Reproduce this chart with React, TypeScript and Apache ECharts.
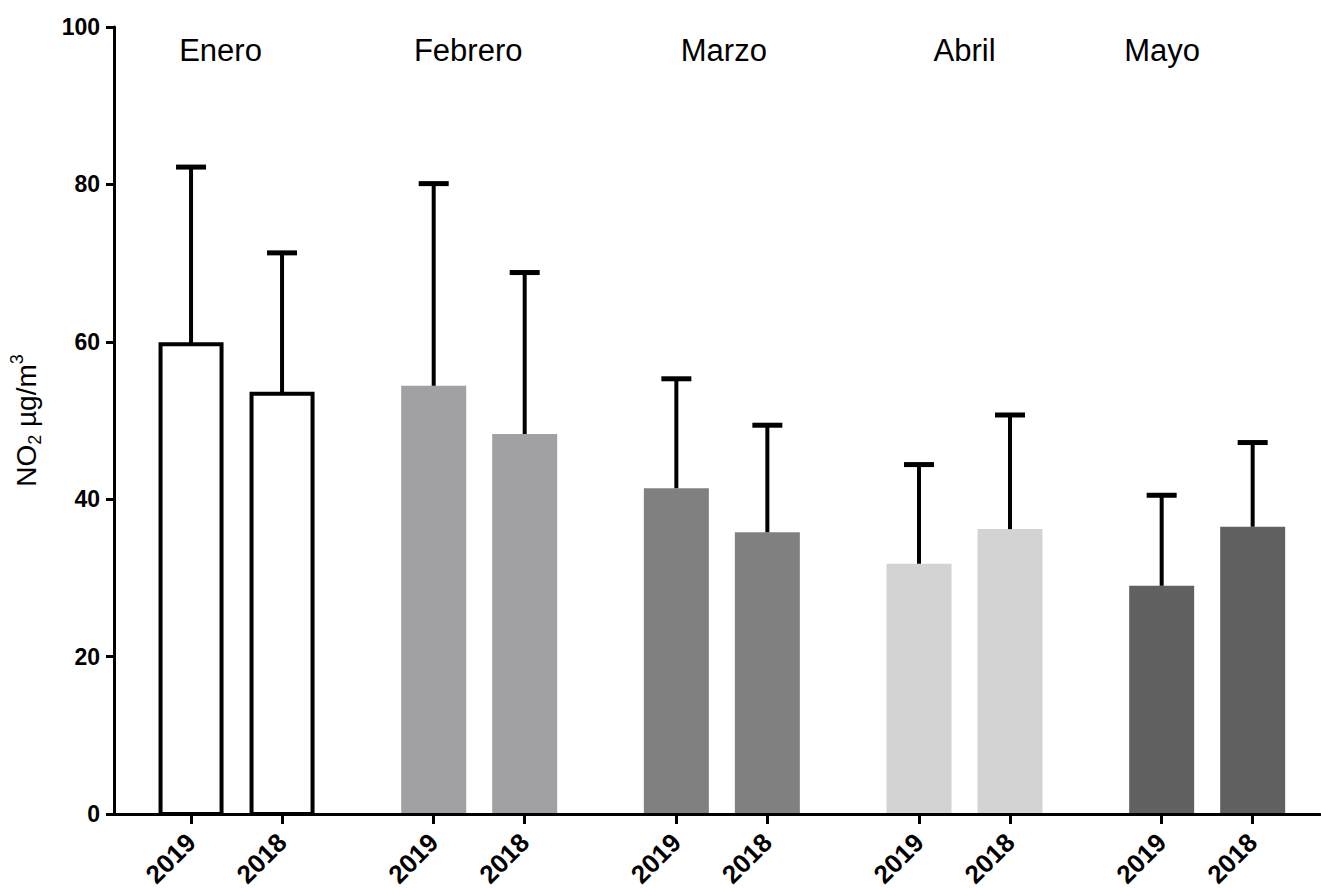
import React, { useEffect, useRef } from 'react';
import * as echarts from 'echarts';

// ---- data ----
const months = ['Enero', 'Febrero', 'Marzo', 'Abril', 'Mayo'];
const years = ['2019', '2018'];
const mean2019 = [59.7, 54.4, 41.4, 31.8, 29.0];
const mean2018 = [53.4, 48.3, 35.8, 36.2, 36.5];
const sd2019 = [22.5, 25.7, 13.9, 12.6, 11.5];
const sd2018 = [17.9, 20.5, 13.6, 14.5, 10.7];
const yTicks = [0, 20, 40, 60, 80, 100];

// ---- style / layout ----
const monthFill = ['#ffffff', '#a1a0a5', '#808080', '#d3d3d3', '#616161'];
const monthOutlined = [true, false, false, false, false];
const GROUP_STEP = 8;
const BAR_STEP = 3;
const X_MIN = -2.54;
const X_MAX = 37.22;
const BAR_PX = 65;
const CAP_PX = 30;
const monthLabelDx = [-16, -11, 2, 0, -45];
const FONT = '"Liberation Sans", Arial, Helvetica, sans-serif';

const means = [mean2019, mean2018];
const sds = [sd2019, sd2018];

const barData: any[] = [];
const tickPos: number[] = [];
const tickYear: string[] = [];
months.forEach((_, m) => {
  years.forEach((yr, y) => {
    const x = m * GROUP_STEP + y * BAR_STEP;
    barData.push([x, means[y][m], sds[y][m], m]);
    tickPos.push(x);
    tickYear.push(yr);
  });
});
const labelData = months.map((_, m) => [m * GROUP_STEP + BAR_STEP / 2, yTicks[yTicks.length - 1], m]);

export default function App() {
  const ref = useRef<HTMLDivElement>(null);
  useEffect(() => {
    document.body.style.margin = '0';
    const chart = echarts.init(ref.current!, null, { renderer: 'svg' });
    const option: any = {
      animation: false,
      backgroundColor: '#ffffff',
      grid: { left: 114, right: 1, top: 27, bottom: 74, containLabel: false, outerBoundsMode: 'none' },
      xAxis: {
        type: 'value',
        min: X_MIN,
        max: X_MAX,
        z: 10,
        splitLine: { show: false },
        axisLine: { show: true, onZero: false, lineStyle: { color: '#000', width: 3 } },
        axisTick: { show: true, customValues: tickPos, length: 10, lineStyle: { color: '#000', width: 3 } },
        axisLabel: {
          customValues: tickPos,
          formatter: (v: number) => {
            let best = 0;
            tickPos.forEach((p, i) => { if (Math.abs(p - v) < Math.abs(tickPos[best] - v)) best = i; });
            return tickYear[best];
          },
          rotate: 45,
          margin: 24,
          color: '#000',
          fontWeight: 'bold',
          fontSize: 26,
          fontFamily: FONT,
        },
      },
      yAxis: {
        type: 'value',
        min: 0,
        max: 100,
        interval: 20,
        z: 10,
        splitLine: { show: false },
        axisLine: { show: true, onZero: false, lineStyle: { color: '#000', width: 3 } },
        axisTick: { show: true, length: 8, lineStyle: { color: '#000', width: 3 } },
        axisLabel: { margin: 14, color: '#000', fontWeight: 'bold', fontSize: 23, fontFamily: FONT },
        name: '{a|NO}{s|2}{a| µg/m}{p|3}',
        nameLocation: 'middle',
        nameRotate: 90,
        nameGap: 70,
        nameTextStyle: {
          color: '#000',
          fontFamily: FONT,
          rich: {
            a: { fontSize: 28, lineHeight: 36, fontFamily: FONT, color: '#000' },
            s: { fontSize: 18, lineHeight: 18, verticalAlign: 'bottom', fontFamily: FONT, color: '#000' },
            p: { fontSize: 18, lineHeight: 18, verticalAlign: 'top', fontFamily: FONT, color: '#000' },
          },
        },
      },
      series: [
        {
          type: 'custom',
          name: 'bars',
          z: 2,
          data: barData,
          renderItem: (params: any, api: any) => {
            const x = api.value(0);
            const v = api.value(1);
            const m = api.value(3);
            const p0 = api.coord([x, 0]);
            const p1 = api.coord([x, v]);
            if (monthOutlined[m]) {
              const w = BAR_PX - 4;
              return {
                type: 'rect',
                shape: { x: p0[0] - w / 2, y: p1[1], width: w, height: p0[1] - p1[1] },
                style: { fill: monthFill[m], stroke: '#000', lineWidth: 4 },
              };
            }
            return {
              type: 'rect',
              shape: { x: p0[0] - BAR_PX / 2, y: p1[1], width: BAR_PX, height: p0[1] - p1[1] },
              style: { fill: monthFill[m] },
            };
          },
        },
        {
          type: 'custom',
          name: 'errors',
          z: 3,
          data: barData,
          renderItem: (params: any, api: any) => {
            const x = api.value(0);
            const v = api.value(1);
            const sd = api.value(2);
            const p0 = api.coord([x, v]);
            const p1 = api.coord([x, v + sd]);
            return {
              type: 'group',
              children: [
                {
                  type: 'line',
                  shape: { x1: p0[0], y1: p0[1], x2: p1[0], y2: p1[1] },
                  style: { stroke: '#000', lineWidth: 4 },
                },
                {
                  type: 'line',
                  shape: { x1: p1[0] - CAP_PX / 2, y1: p1[1], x2: p1[0] + CAP_PX / 2, y2: p1[1] },
                  style: { stroke: '#000', lineWidth: 5 },
                },
              ],
            };
          },
        },
        {
          type: 'custom',
          name: 'months',
          z: 4,
          data: labelData,
          renderItem: (params: any, api: any) => {
            const x = api.value(0);
            const yv = api.value(1);
            const m = api.value(2);
            const p = api.coord([x, yv]);
            return {
              type: 'text',
              x: p[0] + monthLabelDx[m],
              y: p[1] + 23,
              style: {
                text: months[m],
                fill: '#000',
                fontSize: 31,
                fontFamily: FONT,
                align: 'center',
                verticalAlign: 'middle',
              },
            };
          },
        },
      ],
    };
    chart.setOption(option);
    return () => chart.dispose();
  }, []);
  return <div ref={ref} style={{ width: 1321, height: 888 }} />;
}
